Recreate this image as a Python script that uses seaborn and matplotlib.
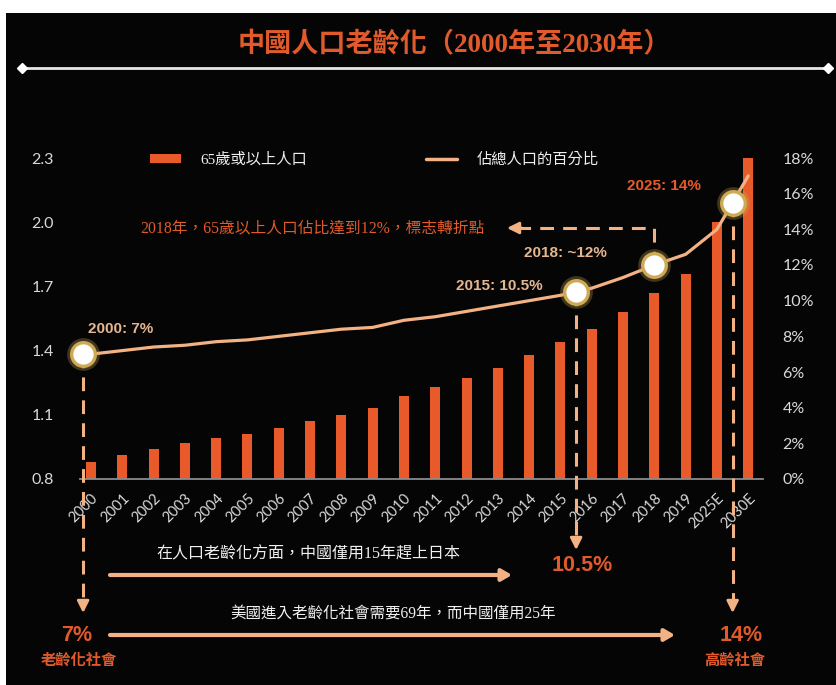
import numpy as np
import pandas as pd
import matplotlib
matplotlib.use("Agg")
import matplotlib.pyplot as plt
import seaborn as sns
from matplotlib.lines import Line2D
from matplotlib.patches import Rectangle, Patch
from matplotlib.transforms import Affine2D
from matplotlib.font_manager import FontProperties

# ---------------- data ----------------
years = ["2000", "2001", "2002", "2003", "2004", "2005", "2006", "2007",
         "2008", "2009", "2010", "2011", "2012", "2013", "2014", "2015",
         "2016", "2017", "2018", "2019", "2025E", "2030E"]
# 65歲或以上人口（億人）
pop_65 = [0.88, 0.91, 0.94, 0.97, 0.99, 1.01, 1.04, 1.07, 1.10, 1.13, 1.19,
          1.23, 1.27, 1.32, 1.38, 1.44, 1.50, 1.58, 1.67, 1.76, 2.00, 2.30]
# 佔總人口的百分比（%）
share_pct = [7.0, 7.2, 7.4, 7.5, 7.7, 7.8, 8.0, 8.2, 8.4, 8.5, 8.9,
             9.1, 9.4, 9.7, 10.0, 10.3, 10.7, 11.3, 12.0, 12.6, 14.0, 17.0]

left_ticks = [0.8, 1.1, 1.4, 1.7, 2.0, 2.3]
right_ticks = [0, 2, 4, 6, 8, 10, 12, 14, 16, 18]

milestone_pos = [-0.25, 15.5, 18, 20.5]
milestone_labels = ["2000: 7%", "2015: 10.5%", "2018: ~12%", "2025: 14%"]

title = "中國人口老齡化（2000年至2030年）"
legend_labels = ["65歲或以上人口", "佔總人口的百分比"]
note_2018 = "2018年，65歲以上人口佔比達到12%，標志轉折點"
note_japan = "在人口老齡化方面，中國僅用15年趕上日本"
note_usa = "美國進入老齡化社會需要69年，而中國僅用25年"
bottom_pcts = ["7%", "10.5%", "14%"]
stage_labels = ["老齡化社會", "高齡社會"]

# ---------------- style ----------------
BG = "#050505"
ORANGE = "#e85a29"
TITLE_C = "#e05a2c"
PEACH = "#f2b283"
TAN = "#e6b68e"
GOLD = "#cfaa55"
TICK_C = "#d9d9d9"
TEXT_W = "#f0f0f0"

sns.set_style("white")
plt.rcParams["font.family"] = ["Noto Sans CJK TC", "DejaVu Sans"]
SERIF_MIX = ["Liberation Serif", "Noto Sans CJK TC"]
SANS_MIX = ["Liberation Sans", "Noto Sans CJK TC"]
TICK_F = ["Lato", "DejaVu Sans"]

W, H = 836, 685
fig = plt.figure(figsize=(W / 100, H / 100), dpi=100, facecolor="white")
# pixel coordinates, origin top-left
PX = Affine2D().scale(1 / W, -1 / H).translate(0, 1) + fig.transFigure

fig.add_artist(Rectangle((6, 13), W - 6, H - 13, transform=PX,
                         facecolor=BG, edgecolor="none", zorder=-5))

AX_L, AX_R, AX_T, AX_B = 80, 763, 158, 479
ax = fig.add_axes([AX_L / W, 1 - AX_B / H, (AX_R - AX_L) / W, (AX_B - AX_T) / H])
ax.set_facecolor("none")

df = pd.DataFrame({"pos": np.arange(len(years)), "year": years,
                   "pop": pop_65, "share": share_pct})

sns.barplot(data=df, x="pos", y="pop", native_scale=True, width=0.32,
            color=ORANGE, saturation=1, ax=ax, zorder=2,
            edgecolor="none", linewidth=0)
ax.set_xlim(-0.35, 21.47)
ax.set_ylim(0.8, 2.3)
ax.set_xlabel("")
ax.set_ylabel("")
ax.set_yticks(left_ticks, [f"{v:.1f}" for v in left_ticks])
ax.set_xticks(df["pos"], years)
for lab in ax.get_xticklabels():
    lab.set_rotation(45)
    lab.set_ha("right")
    lab.set_va("top")
    lab.set_rotation_mode("anchor")
ax.tick_params(axis="x", length=0, pad=9, labelsize=10.5, labelcolor=TICK_C)
ax.tick_params(axis="y", length=0, pad=19, labelsize=11.5, labelcolor=TICK_C)
for lab in ax.get_xticklabels() + ax.get_yticklabels():
    lab.set_family(TICK_F)
for side in ["top", "right", "left"]:
    ax.spines[side].set_visible(False)
ax.spines["bottom"].set_color("#8a8a8a")
ax.spines["bottom"].set_linewidth(1.3)

ax2 = ax.twinx()
ax2.set_facecolor("none")
sns.lineplot(data=df, x="pos", y="share", ax=ax2, color=PEACH,
             linewidth=2.3, zorder=3)
ax2.set_ylim(0, 18)
ax2.set_xlim(-0.35, 21.47)
ax2.set_ylabel("")
ax2.set_yticks(right_ticks, [f"{v}%" for v in right_ticks])
ax2.tick_params(axis="y", length=0, pad=14, labelsize=11.5, labelcolor=TICK_C)
for lab in ax2.get_yticklabels():
    lab.set_family(TICK_F)
for side in ax2.spines:
    ax2.spines[side].set_visible(False)


def share_at_px(py):
    return ax2.transData.inverted().transform(PX.transform((0, py)))[1]


def pos_at_px(px):
    return ax2.transData.inverted().transform(PX.transform((px, 0)))[0]


# milestone markers on the share line
ms_y = np.interp(milestone_pos, df["pos"], df["share"])

# dashed drop lines to the bottom captions
drops = {0: 613, 1: 550, 3: 613}
for i, py in drops.items():
    x = milestone_pos[i]
    ax2.plot([x, x], [ms_y[i], share_at_px(py - 8)], color=PEACH, lw=2.2,
             ls=(0, (4.5, 3)), clip_on=False, zorder=4)
    ax2.annotate("", xy=(x, py), xytext=(x, py - 12),
                 xycoords=(ax2.transData, PX), textcoords=(ax2.transData, PX),
                 arrowprops=dict(arrowstyle="-|>,head_length=0.7,head_width=0.35",
                                 color=PEACH, lw=2, shrinkA=0, shrinkB=0),
                 annotation_clip=False, zorder=4)

# 2018 call-out: dashed elbow pointing to the note
y_note = share_at_px(228)
x_end = pos_at_px(520)
ax2.plot([milestone_pos[2], milestone_pos[2], x_end], [ms_y[2], y_note, y_note],
         color=PEACH, lw=2.2, ls=(0, (4.5, 3)), clip_on=False, zorder=4)
ax2.annotate("", xy=(507, 228), xytext=(522, 228), xycoords=PX, textcoords=PX,
             arrowprops=dict(arrowstyle="-|>,head_length=0.7,head_width=0.35",
                             color=PEACH, lw=2, shrinkA=0, shrinkB=0),
             annotation_clip=False)

ax2.plot(milestone_pos, ms_y, "o", ms=21, mfc="none", mec=GOLD, mew=2.5,
         alpha=0.3, clip_on=False, zorder=6)
ax2.plot(milestone_pos, ms_y, "o", ms=17, mfc="white", mec=GOLD, mew=2.4,
         clip_on=False, zorder=7)

label_offsets = [(37, 25), (-77, 6), (-89, 12), (-69, 17)]
label_colors = [TAN, TAN, TAN, ORANGE]
for x, y, txt, off, c in zip(milestone_pos, ms_y, milestone_labels,
                             label_offsets, label_colors):
    ax2.annotate(txt, xy=(x, y), xytext=off, textcoords="offset pixels",
                 ha="center", va="center", fontsize=11, fontweight="bold",
                 color=c, family=SANS_MIX, annotation_clip=False, zorder=8)

# ---------------- header ----------------
fig.text(454, 45, title, transform=PX, ha="center", va="center", fontsize=19.5,
         fontweight="bold", color=TITLE_C, family=SERIF_MIX)
fig.add_artist(Line2D([22, 828], [68, 68], transform=PX, color="#e6e6e6",
                      lw=2, marker="D", ms=5, mfc="white", mec="white"))

handles = [Patch(facecolor=ORANGE, edgecolor="none"),
           Line2D([], [], color=PEACH, lw=2.5)]
fig.legend(handles, legend_labels, loc="center left", bbox_to_anchor=(150, 160),
           bbox_transform=PX, ncol=2, frameon=False, handlelength=2.0,
           handleheight=0.55, handletextpad=1.3, columnspacing=7.8,
           borderpad=0, borderaxespad=0, labelcolor=TEXT_W,
           prop=FontProperties(family=SERIF_MIX, size=11))

fig.text(140, 228, note_2018, transform=PX, ha="left", va="center",
         fontsize=11.3, color=TITLE_C, family=SERIF_MIX)

# ---------------- bottom captions ----------------
fig.text(308, 554, note_japan, transform=PX, ha="center", va="center",
         fontsize=11.5, color=TEXT_W, family=SERIF_MIX)
fig.text(393, 614, note_usa, transform=PX, ha="center", va="center",
         fontsize=11.2, color=TEXT_W, family=SERIF_MIX)

for (x0, x1, y) in [(110, 512, 575), (110, 675, 635)]:
    ax2.annotate("", xy=(x1, y), xytext=(x0, y), xycoords=PX, textcoords=PX,
                 arrowprops=dict(arrowstyle="-|>,head_length=0.6,head_width=0.35",
                                 color=PEACH, lw=3, shrinkA=0, shrinkB=0),
                 annotation_clip=False)

for txt, (x, y) in zip(bottom_pcts, [(77, 636), (582, 566), (741, 636)]):
    fig.text(x, y, txt, transform=PX, ha="center", va="center", fontsize=15.5,
             fontweight="bold", color=TITLE_C, family=SANS_MIX)
for txt, (x, y) in zip(stage_labels, [(79, 660), (735, 660)]):
    fig.text(x, y, txt, transform=PX, ha="center", va="center", fontsize=11,
             fontweight="bold", color=TITLE_C, family=SERIF_MIX)

fig.savefig("out.png", dpi=100, facecolor="white")
